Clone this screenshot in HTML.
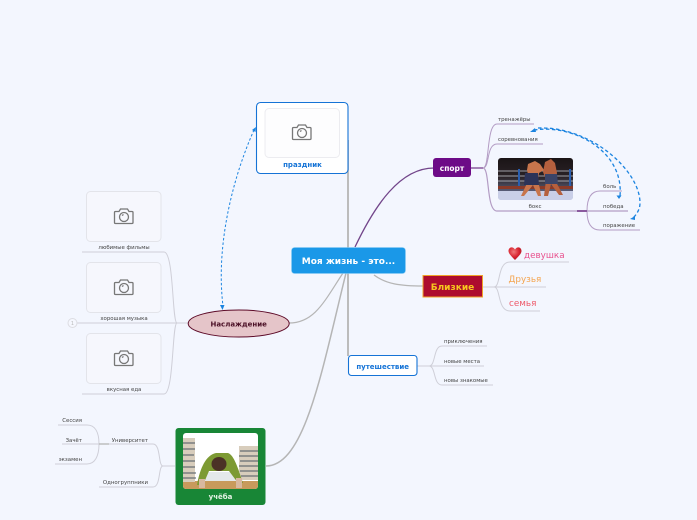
<!DOCTYPE html>
<html><head><meta charset="utf-8">
<style>
html,body{margin:0;padding:0;background:#f3f6fe;}
svg{display:block;font-family:"DejaVu Sans","Liberation Sans",sans-serif;}
</style></head>
<body>
<svg width="697" height="520" viewBox="0 0 697 520" xmlns="http://www.w3.org/2000/svg">
<defs>
<linearGradient id="sky" x1="0" y1="0" x2="0" y2="1"><stop offset="0" stop-color="#1a1416"/><stop offset=".45" stop-color="#2a2226"/><stop offset=".8" stop-color="#5a5f7a"/><stop offset="1" stop-color="#d5daee"/></linearGradient>
<radialGradient id="ht" cx=".4" cy=".35" r=".7"><stop offset="0" stop-color="#f07a7a"/><stop offset=".6" stop-color="#d8232f"/><stop offset="1" stop-color="#a81a28"/></radialGradient>
<g id="cam" fill="none" stroke="#777" stroke-width="1.300"><path d="M-8.500-5.500h3.500l1.500-2.500h7l1.500 2.500h3a1 1 0 0 1 1 1v10a1 1 0 0 1-1 1h-16.500a1 1 0 0 1-1-1v-10a1 1 0 0 1 1-1z"/><circle cx="0" cy="0" r="4.500"/><path d="M-2 -1.500l1.500-1"/></g>
</defs>
<rect width="697" height="520" fill="#f3f6fe"/>

<!-- main connectors -->
<g fill="none" stroke="#b5b5b5">
<path d="M348 140V248" stroke-width="1.800"/>
<path d="M348 273V356" stroke-width="1.800"/>
<path d="M374 275C386 284 400 286 423 286" stroke-width="1.300"/>
<path d="M343 273C325 300 315 323 289 323" stroke-width="1.200"/>
<path d="M346 273C322 370 305 466 266 466" stroke-width="1.500"/>
</g>
<path d="M355 247C375 205 400 168 434 168" fill="none" stroke="#72458a" stroke-width="1.300"/>

<!-- sport branches -->
<g fill="none" stroke="#b39cc4" stroke-width="1">
<path d="M483 168C490 168 486 124 497 124H534"/>
<path d="M483 168C490 168 486 144 497 144H543"/>
<path d="M483 168C490 168 486 211 497 211H628" stroke-width="1.200"/>
<path d="M587 211C587 200 590 191 600 191H622"/>
<path d="M587 211C587 222 590 230 600 230H640"/>
</g>
<path d="M471 168H483" stroke="#8a5a9e" stroke-width="1.500"/>
<path d="M577 211H587" stroke="#8a5a9e" stroke-width="2"/>

<!-- close branches -->
<g fill="none" stroke="#cfcfd8" stroke-width="1">
<path d="M494 287C501 287 497 262 510 262H569"/>
<path d="M483 287H546"/>
<path d="M494 287C501 287 497 311 510 311H540"/>
<path d="M429 366C436 366 433 346 442 346H487"/>
<path d="M417 366H484"/>
<path d="M429 366C436 366 433 385 442 385H493"/>
</g>

<!-- left branches -->
<g fill="none" stroke="#cfcfd8" stroke-width="1">
<path d="M177 323C172 323 174 252 164 252H82"/>
<path d="M188 323H72"/>
<path d="M177 323C172 323 174 394 164 394H82"/>
<path d="M175 466H163C158 466 161 444 153 444H105"/>
<path d="M163 466C158 466 161 487 153 487H99"/>
<path d="M108 444H62"/>
<path d="M99 444C99 432 95 425 87 425H58"/>
<path d="M99 444C99 456 95 464 87 464H55"/>
</g>
<path d="M99 444H109" stroke="#b5b5b5" stroke-width="1.300"/>
<circle cx="72.500" cy="323" r="4.500" fill="#f5f7fe" stroke="#dcdce2"/>
<text x="72.500" y="325" font-size="5" text-anchor="middle" fill="#bbb">1</text>

<!-- праздник -->
<rect x="256.500" y="102.500" width="91.500" height="71" rx="4" fill="#fff" stroke="#1573d6" stroke-width="1.100"/>
<rect x="265" y="108.500" width="74.500" height="49" rx="4" fill="#fdfdfe" stroke="#ececf0"/>
<use href="#cam" x="302" y="133"/>
<text x="302.500" y="167" font-size="7" font-weight="bold" text-anchor="middle" fill="#1573d6">праздник</text>

<!-- left pictures -->
<g fill="#f6f7fd" stroke="#e3e4ea">
<rect x="86.500" y="191.500" width="74.500" height="50" rx="4"/>
<rect x="86.500" y="262.500" width="74.500" height="50" rx="4"/>
<rect x="86.500" y="333.500" width="74.500" height="50" rx="4"/>
</g>
<use href="#cam" x="124" y="217"/>
<use href="#cam" x="124" y="288"/>
<use href="#cam" x="124" y="359"/>
<g font-size="5.400" fill="#444" text-anchor="middle">
<text x="124" y="249">любимые фильмы</text>
<text x="124" y="320">хорошая музыка</text>
<text x="124" y="391">вкусная еда</text>
</g>

<!-- Наслаждение -->
<ellipse cx="238.700" cy="323.500" rx="50.500" ry="13.500" fill="#e5c5c9" stroke="#5d0b28" stroke-width="1"/>
<text x="238.700" y="326.500" font-size="7" font-weight="bold" text-anchor="middle" fill="#4a0f25">Наслаждение</text>

<!-- central -->
<rect x="291.500" y="247.500" width="114" height="26" rx="3" fill="#1a98e8" stroke="#8ccdf4" stroke-width=".6"/>
<text x="348.500" y="264" font-size="9" font-weight="bold" text-anchor="middle" fill="#fff">Моя жизнь - это...</text>

<!-- sport -->
<rect x="433" y="158" width="38" height="19" rx="3" fill="#6d0b87"/>
<text x="452" y="171" font-size="7.500" font-weight="bold" text-anchor="middle" fill="#fff">спорт</text>
<g font-size="5.400" fill="#444">
<text x="498" y="121">тренажёры</text>
<text x="498" y="141">соревнования</text>
<text x="535" y="208" text-anchor="middle">бокс</text>
<text x="603" y="188">боль</text>
<text x="603" y="208">победа</text>
<text x="603" y="227">поражение</text>
</g>

<!-- boxing image -->
<clipPath id="bx"><rect x="498" y="158" width="75" height="42" rx="3"/></clipPath>
<g clip-path="url(#bx)">
<rect x="498" y="158" width="75" height="42" fill="url(#sky)"/>
<g stroke="#c9ccd4" stroke-width=".8"><path d="M498 171H573"/><path d="M498 176H573"/><path d="M498 181H573"/></g>
<rect x="518" y="169" width="2" height="18" fill="#2a5fb0"/>
<rect x="569" y="169" width="2" height="18" fill="#2a5fb0"/>
<rect x="498" y="186" width="75" height="3" fill="#8a3a28"/>
<rect x="498" y="191" width="75" height="9" fill="#c9cfe8"/>
<path d="M528 164l7-3 5 3 4 6-5 3-1 8 2 8 1 7h-3l-5-11-9 11h-3l8-17-2-9z" fill="#c8754c"/>
<path d="M525 173h13l1 12h-15z" fill="#2c3358"/>
<path d="M545 162l6-3 4 4 2 10-1 9 7 13h-4l-8-11-3 12h-4l2-16-3-8z" fill="#b5603e"/>
<path d="M545 174h12l1 10h-13z" fill="#3a4468"/>
</g>

<!-- Близкие -->
<rect x="423" y="275.500" width="59.500" height="21.500" fill="#ad0c2e" stroke="#f0a428" stroke-width="1"/>
<text x="452.500" y="290" font-size="9" font-weight="bold" text-anchor="middle" fill="#f7c81e">Близкие</text>
<path d="M515 260C510 255 508.500 253 508.500 251C508.500 247 513 246 515 249.500C517 246 521.500 247 521.500 251C521.500 253 520 255 515 260Z" fill="url(#ht)"/>
<text x="524" y="258" font-size="8.800" fill="#e8528e">девушка</text>
<text x="508.500" y="282" font-size="8.800" fill="#f4a550">Друзья</text>
<text x="509" y="306" font-size="8.800" fill="#ee5a6a">семья</text>

<!-- путешествие -->
<rect x="348.500" y="355.500" width="68.500" height="20" rx="3" fill="#fff" stroke="#1573d6" stroke-width="1.100"/>
<text x="382.700" y="369" font-size="7" font-weight="bold" text-anchor="middle" fill="#1573d6">путешествие</text>
<g font-size="5.400" fill="#444">
<text x="444" y="343">приключения</text>
<text x="444" y="363">новые места</text>
<text x="444" y="382">новы знакомые</text>
</g>

<!-- учёба -->
<rect x="175.500" y="428" width="90" height="77" rx="3" fill="#188636"/>
<clipPath id="st"><rect x="183" y="433" width="75" height="56" rx="3"/></clipPath>
<g clip-path="url(#st)">
<rect x="183" y="433" width="75" height="56" fill="#fff"/>
<rect x="183" y="481" width="75" height="8" fill="#c89a5c"/>
<g fill="#d8cdbc"><rect x="183" y="438" width="12" height="44"/><rect x="239" y="446" width="19" height="34"/></g>
<g stroke="#4a5560" stroke-width=".9"><path d="M183 443h12M183 449h12M183 455h11M183 461h12M183 467h12M183 473h13M183 478h13M240 451h18M239 456h19M240 461h18M239 466h19M240 471h18M241 476h17"/></g>
<rect x="202" y="472" width="38" height="9" fill="#e4e8ea"/>
<path d="M197 485C200 468 206 455 216 453H228C234 455 238 468 243 483H238L229 471H209L203 485Z" fill="#7d9a33"/>
<ellipse cx="219" cy="464" rx="7.500" ry="7" fill="#4b3226"/>
<rect x="199" y="479" width="6" height="9" fill="#d8b8a0"/>
<rect x="236" y="478" width="6" height="10" fill="#d8b8a0"/>
</g>
<text x="220.500" y="499" font-size="7" font-weight="bold" text-anchor="middle" fill="#e6f2e6">учёба</text>
<g font-size="5.400" fill="#444">
<text x="148" y="442" text-anchor="end">Университет</text>
<text x="148" y="484" text-anchor="end">Одногруппники</text>
<text x="82" y="422" text-anchor="end">Сессия</text>
<text x="82" y="442" text-anchor="end">Зачёт</text>
<text x="82" y="461" text-anchor="end">экзамен</text>
</g>

<!-- dashed relationships -->
<g fill="none" stroke="#1b84e0" stroke-width="1" stroke-dasharray="2.500 2">
<path d="M254 130C236 170 215 240 223 306"/>
<path d="M534 130C572 124 624 150 620 196" stroke-width="1.300" stroke-dasharray="3.500 2.500"/>
<path d="M538 128C590 126 640 170 640 203C640 210 636 215 633 218" stroke-width="1.300" stroke-dasharray="3.500 2.500"/>
</g>
<g fill="#1b84e0">
<path d="M256 127l-.5 5-3.500-2z"/>
<path d="M222.500 310l-2.500-5h4.500z"/>
<path d="M530 132l5-4 1 4z"/>
<path d="M619 199l-2.500-3.500h5z"/>
<path d="M630 219l5-3 0 4z"/>
</g>
</svg>
</body></html>
